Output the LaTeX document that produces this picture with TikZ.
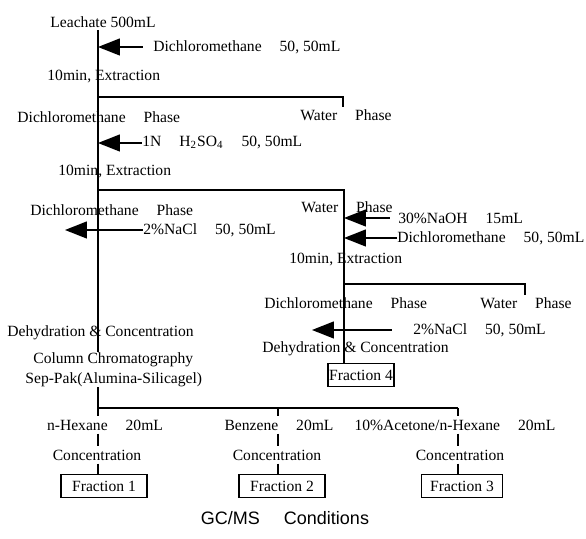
\documentclass[tikz,border=0pt]{standalone}
\usepackage{fontspec}
\setmainfont{Liberation Serif}
\newfontfamily\gcfont{Liberation Sans}
\usetikzlibrary{arrows.meta}
\newcommand{\wgap}{\hspace{9pt}}

\begin{document}
\begin{tikzpicture}[x=0.5pt, y=-0.5pt]
        \tikzset{
            txt/.style={
                    anchor=west,
                    inner sep=0pt,
                    font=\fontsize{7.8}{9}\selectfont,
                },
            fraction/.style={
                    rectangle,
                    draw=black,
                    line width=0.9pt,
                    inner sep=0pt,
                    minimum width=43pt,
                    minimum height=11.5pt,
                    font=\fontsize{7.8}{9}\selectfont,
                },
            flow/.style={line width=0.9pt},
            feed/.style={line width=0.7pt, -{Triangle[length=11pt, width=8.5pt]}},
        }
        \useasboundingbox (0, 0) rectangle (586, 539);
        % junctions
        \coordinate (top) at (98, 30);
        \coordinate (h1r) at (343, 97);
        \coordinate (h2r) at (344, 190);
        \coordinate (h3r) at (525, 284);
        \coordinate (h4l) at (98, 408);
        \coordinate (h4m) at (278, 408);
        \coordinate (h4r) at (458, 408);
        % first extraction
        \node[txt] (leach) at (50, 22) {Leachate 500mL};
        \node[txt] (dcm1) at (153, 47) {Dichloromethane\wgap 50, 50mL};
        \node[txt] (ext1) at (47, 77) {10min, Extraction};
        \node[txt] (org1) at (17, 117) {Dichloromethane\wgap Phase};
        \node[txt] (aq1) at (300, 115) {Water\wgap Phase};
        % acid wash
        \node[txt] (acid) at (142, 143) {1N\wgap H\textsubscript{2}SO\textsubscript{4}\wgap 50, 50mL};
        \node[txt] (ext2) at (58, 172) {10min, Extraction};
        \node[txt] (org2) at (30, 210) {Dichloromethane\wgap Phase};
        \node[txt] (aq2) at (301, 207) {Water\wgap Phase};
        \node[txt] (nacl1) at (143, 230) {2\%NaCl\wgap 50, 50mL};
        % water phase branch
        \node[txt] (naoh) at (398, 218) {30\%NaOH\wgap 15mL};
        \node[txt] (dcm2) at (397, 238) {Dichloromethane\wgap 50, 50mL};
        \node[txt] (ext3) at (289, 260) {10min, Extraction};
        \node[txt] (org3) at (264, 303) {Dichloromethane\wgap Phase};
        \node[txt] (aq3) at (480, 303) {Water\wgap Phase};
        \node[txt] (nacl2) at (413, 330) {2\%NaCl\wgap 50, 50mL};
        \node[txt] (dry2) at (262, 349) {Dehydration \& Concentration};
        \node[fraction, minimum width=33pt] (fr4) at (361, 375) {Fraction 4};
        % clean-up
        \node[txt] (dry1) at (7, 333) {Dehydration \& Concentration};
        \node[txt] (col) at (33, 360) {Column Chromatography};
        \node[txt] (sep) at (25, 380) {Sep-Pak(Alumina-Silicagel)};
        % elution
        \node[txt, anchor=center, inner ysep=1.5pt] (hex) at (105, 425) {n-Hexane\wgap 20mL};
        \node[txt, anchor=center, inner ysep=1.5pt] (conc1) at (97, 455) {Concentration};
        \node[fraction] (fr1) at (104, 486) {Fraction 1};
        \node[txt, anchor=center, inner ysep=1.5pt] (benz) at (279, 425) {Benzene\wgap 20mL};
        \node[txt, anchor=center, inner ysep=1.5pt] (conc2) at (277, 455) {Concentration};
        \node[fraction] (fr2) at (282, 486) {Fraction 2};
        \node[txt, anchor=center, inner ysep=1.5pt] (acet) at (455, 425) {10\%Acetone/n-Hexane\wgap 20mL};
        \node[txt, anchor=center, inner ysep=1.5pt] (conc3) at (460, 455) {Concentration};
        \node[fraction, minimum width=40.5pt] (fr3) at (462, 486) {Fraction 3};
        \node[font=\gcfont\fontsize{9}{11}\selectfont] (gcms) at (285, 518) {GC/MS\hspace{12pt}Conditions};
        % main lines
        \draw[flow] (top) -- (col.north -| top);
        \draw[flow] (sep.south -| top) -- (h4l) -- (h4r);
        \draw[flow] (top |- h1r) -- (h1r) -- ++(0, 10);
        \draw[flow] (top |- h2r) -- (h2r) -- (fr4.north -| h2r);
        \draw[flow] (h2r |- h3r) -- (h3r) -- ++(0, 11);
        \draw[flow] (h4l) -- (hex.north -| h4l);
        \draw[flow] (hex.south -| h4l) -- (conc1.north -| h4l);
        \draw[flow] (conc1.south -| h4l) -- (fr1.north -| h4l);
        \draw[flow] (h4m) -- (benz.north -| h4m);
        \draw[flow] (benz.south -| h4m) -- (conc2.north -| h4m);
        \draw[flow] (conc2.south -| h4m) -- (fr2.north -| h4m);
        \draw[flow] (h4r) -- (acet.north -| h4r);
        \draw[flow] (acet.south -| h4r) -- (conc3.north -| h4r);
        \draw[flow] (conc3.south -| h4r) -- (fr3.north -| h4r);
        % reagents
        \coordinate (a1) at (143, 47);
        \coordinate (a3) at (65, 230);
        \coordinate (a4) at (390, 218);
        \coordinate (a6s) at (392, 330);
        \coordinate (a6) at (312, 330);
        \draw[feed] (a1) -- (top |- a1);
        \draw[feed] (acid.west) -- (top |- acid.west);
        \draw[feed] (nacl1.west) -- (a3);
        \draw[feed] (a4) -- (h2r |- a4);
        \draw[feed] (dcm2.west) -- (h2r |- dcm2.west);
        \draw[feed] (a6s) -- (a6);
    \end{tikzpicture}
\end{document}
